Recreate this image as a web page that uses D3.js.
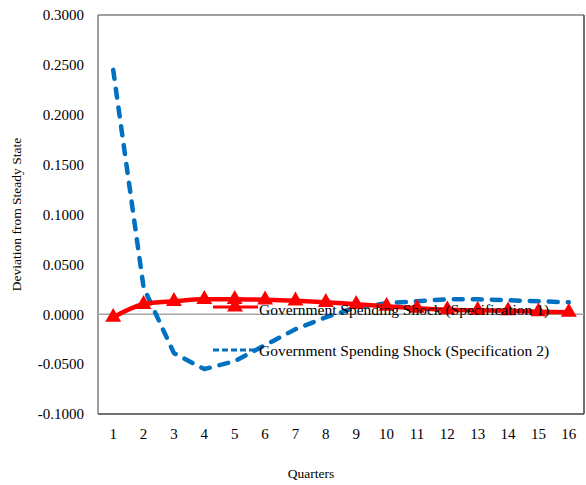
<!DOCTYPE html>
<html><head><meta charset="utf-8">
<script src="https://cdn.jsdelivr.net/npm/d3@7"></script>
<style>body{margin:0;background:#fff;} text{font-family:"Liberation Serif","Times New Roman",serif;fill:#000;}</style>
</head><body><svg id="c" width="586" height="485"></svg>
<script>
const quarters = [1,2,3,4,5,6,7,8,9,10,11,12,13,14,15,16];
const spec1 = [-0.003,0.010,0.013,0.015,0.015,0.0145,0.0135,0.012,0.010,0.008,0.006,0.0045,0.004,0.0035,0.0025,0.002];
const spec2 = [0.245,0.027,-0.039,-0.055,-0.047,-0.031,-0.015,-0.003,0.007,0.011,0.013,0.015,0.015,0.014,0.013,0.012];
const yTicks = [-0.1,-0.05,0,0.05,0.1,0.15,0.2,0.25,0.3];
const seriesNames = ["Government Spending Shock (Specification 1)","Government Spending Shock (Specification 2)"];

const svg = d3.select("#c");
const L=98,R=584,T=15,B=414;
const x = d3.scaleBand().domain(quarters).range([L,R]);
const y = d3.scaleLinear().domain([-0.1,0.3]).range([B,T]);
const cx = d => x(d)+x.bandwidth()/2;
const FF = '"Liberation Serif","Times New Roman",serif';

// y axis labels
const ya = svg.append("g").attr("transform",`translate(${L},0)`)
  .call(d3.axisLeft(y).tickValues(yTicks).tickFormat(d => d3.format(".4f")(d).replace("\u2212","-")).tickSize(0).tickPadding(14));
ya.select(".domain").remove();
ya.attr("font-family",FF).attr("font-size",15);
ya.selectAll("text").style("font-family",FF).style("font-size","15px");

// x axis labels
const xa = svg.append("g").attr("transform",`translate(0,${B})`)
  .call(d3.axisBottom(x).tickSize(0).tickPadding(14));
xa.select(".domain").remove();
xa.attr("font-family",FF).attr("font-size",15);
xa.selectAll("text").style("font-family",FF).style("font-size","15px");

// frame
svg.append("line").attr("x1",L).attr("x2",R).attr("y1",T).attr("y2",T).attr("stroke","#808080").attr("stroke-width",1.5);
svg.append("line").attr("x1",L).attr("x2",L).attr("y1",T).attr("y2",B).attr("stroke","#808080").attr("stroke-width",1.5);
svg.append("line").attr("x1",L).attr("x2",R).attr("y1",B).attr("y2",B).attr("stroke","#404040").attr("stroke-width",1.5);
svg.append("line").attr("x1",R).attr("x2",R).attr("y1",T).attr("y2",B).attr("stroke","#404040").attr("stroke-width",1.5);
// zero line
svg.append("line").attr("x1",L).attr("x2",R).attr("y1",y(0)).attr("y2",y(0)).attr("stroke","#a6a6a6").attr("stroke-width",1.5);

// titles
svg.append("text").attr("transform",`translate(21,${(T+B)/2}) rotate(-90)`).attr("text-anchor","middle")
  .style("font-size","13.5px").text("Deviation from Steady State");
svg.append("text").attr("x",311).attr("y",478).attr("text-anchor","middle").style("font-size","13.5px").text("Quarters");

const lineRed = d3.line().x((d,i)=>cx(quarters[i])).y(d=>y(d)).curve(d3.curveMonotoneX);
const lineBlue = d3.line().x((d,i)=>cx(quarters[i])).y(d=>y(d)).curve(d3.curveLinear);
const tri = d3.symbol().type(d3.symbolTriangle).size(110);

// series 2 (blue dashed)
svg.append("path").datum(spec2).attr("d",lineBlue).attr("fill","none").attr("stroke","#0070c0")
  .attr("stroke-width",4.5).attr("stroke-dasharray","9,10").attr("stroke-linecap","round").attr("stroke-linejoin","round");
// series 1 (red)
svg.append("path").datum(spec1).attr("d",lineRed).attr("fill","none").attr("stroke","#ff0000").attr("stroke-width",4.5);
svg.selectAll(".m").data(spec1).enter().append("path").attr("d",tri)
  .attr("transform",(d,i)=>`translate(${cx(quarters[i])},${y(d)})`).attr("fill","#ff0000");

// legend (drawn on top)
const lg = svg.append("g");
lg.append("line").attr("x1",213).attr("x2",258).attr("y1",307).attr("y2",307).attr("stroke","#ff0000").attr("stroke-width",3);
lg.append("path").attr("d",tri).attr("transform","translate(235,307)").attr("fill","#ff0000");
lg.append("line").attr("x1",213).attr("x2",258).attr("y1",350).attr("y2",350).attr("stroke","#0070c0").attr("stroke-width",3).attr("stroke-dasharray","6,3");
lg.append("text").attr("x",259).attr("y",315).style("font-size","15.5px").text(seriesNames[0]);
lg.append("text").attr("x",259).attr("y",356).style("font-size","15.5px").text(seriesNames[1]);
</script></body></html>
